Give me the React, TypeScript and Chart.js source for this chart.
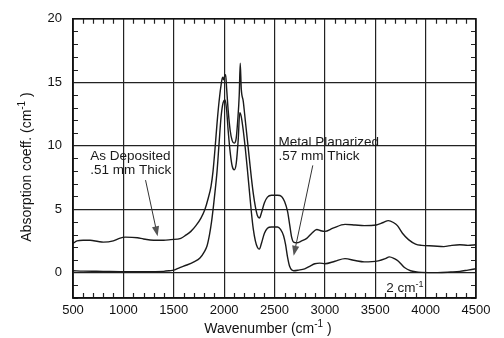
import { useEffect, useRef } from "react";
import { Chart, registerables } from "chart.js";
Chart.register(...registerables);

// As Deposited (.51 mm) spectrum
const depositedWn = [500, 540, 600, 670, 750, 800, 900, 960, 1020, 1140, 1200, 1300, 1400, 1470, 1570, 1620, 1670, 1720, 1770, 1810, 1840, 1870, 1890, 1910, 1930, 1950, 1970, 1985, 1995, 2005, 2015, 2025, 2040, 2060, 2080, 2100, 2120, 2135, 2150, 2160, 2170, 2190, 2210, 2230, 2250, 2270, 2290, 2310, 2330, 2350, 2370, 2400, 2430, 2470, 2530, 2570, 2600, 2630, 2650, 2670, 2690, 2720, 2770, 2820, 2870, 2920, 2960, 3000, 3080, 3200, 3300, 3390, 3510, 3580, 3630, 3680, 3720, 3770, 3830, 3900, 3960, 4080, 4180, 4260, 4340, 4420, 4500];
const depositedAbs = [2.3, 2.5, 2.55, 2.55, 2.45, 2.4, 2.5, 2.7, 2.8, 2.75, 2.65, 2.55, 2.55, 2.6, 2.7, 2.95, 3.25, 3.7, 4.3, 5.0, 5.8, 6.8, 8.0, 9.8, 11.8, 13.5, 14.8, 15.4, 15.2, 15.5, 15.6, 14.5, 12.8, 11.2, 10.4, 10.2, 10.6, 12.0, 14.0, 16.5, 14.5, 13.5, 12.0, 10.5, 9.0, 7.5, 6.2, 5.2, 4.5, 4.3, 4.7, 5.5, 5.95, 6.1, 6.1, 6.0, 5.6, 4.8, 3.8, 2.8, 2.4, 2.35, 2.5, 2.7, 3.1, 3.4, 3.3, 3.25, 3.5, 3.8, 3.75, 3.7, 3.75, 3.95, 4.1, 3.95, 3.7, 3.1, 2.6, 2.25, 2.15, 2.1, 2.05, 2.15, 2.2, 2.15, 2.2];

// Metal Planarized (.57 mm) spectrum
const planarizedWn = [500, 600, 800, 1000, 1200, 1400, 1460, 1500, 1560, 1630, 1700, 1760, 1800, 1830, 1855, 1875, 1895, 1910, 1930, 1950, 1970, 1990, 2010, 2025, 2040, 2060, 2080, 2100, 2120, 2140, 2155, 2170, 2190, 2210, 2230, 2250, 2270, 2290, 2310, 2330, 2350, 2370, 2400, 2430, 2470, 2530, 2560, 2590, 2610, 2630, 2650, 2690, 2740, 2800, 2850, 2900, 2950, 3000, 3100, 3200, 3300, 3390, 3530, 3600, 3640, 3690, 3730, 3790, 3850, 3960, 4120, 4250, 4340, 4420, 4500];
const planarizedAbs = [0.15, 0.12, 0.1, 0.08, 0.08, 0.1, 0.15, 0.2, 0.4, 0.6, 0.85, 1.15, 1.6, 2.1, 3.0, 4.0, 5.3, 6.4, 8.0, 10.2, 12.3, 13.4, 13.6, 12.8, 11.2, 9.5, 8.4, 8.1, 8.6, 10.5, 12.6, 12.3, 11.2, 9.8, 8.2, 6.5, 4.8, 3.4, 2.5, 2.0, 1.85, 2.3, 3.1, 3.5, 3.6, 3.6, 3.4, 2.9, 2.2, 1.2, 0.5, 0.15, 0.2, 0.3, 0.5, 0.7, 0.75, 0.7, 0.9, 1.1, 0.95, 0.85, 0.93, 1.1, 1.24, 1.1, 0.9, 0.4, 0.15, 0.02, 0.0, 0.05, 0.1, 0.2, 0.3];

const xTicks = [500, 1000, 1500, 2000, 2500, 3000, 3500, 4000, 4500];
const yTicks = [0, 5, 10, 15, 20];
const xMinorStep = 100;
const yMinorStep = 1;

const FONT = "'Liberation Sans', Arial, Helvetica, sans-serif";

type Part = { text: string; sup?: boolean };

function drawRich(ctx: CanvasRenderingContext2D, parts: Part[], x: number, y: number, size: number, align: "left" | "center") {
  const supSize = Math.round(size * 0.68);
  const widths = parts.map((p) => {
    ctx.font = `${p.sup ? supSize : size}px ${FONT}`;
    return ctx.measureText(p.text).width;
  });
  const total = widths.reduce((a, b) => a + b, 0);
  let cx = align === "center" ? x - total / 2 : x;
  ctx.textAlign = "left";
  ctx.textBaseline = "alphabetic";
  parts.forEach((p, i) => {
    ctx.font = `${p.sup ? supSize : size}px ${FONT}`;
    ctx.fillText(p.text, cx, p.sup ? y - size * 0.42 : y);
    cx += widths[i];
  });
}

function drawArrow(ctx: CanvasRenderingContext2D, x1: number, y1: number, x2: number, y2: number) {
  const ang = Math.atan2(y2 - y1, x2 - x1);
  const len = 10;
  const half = 3.6;
  ctx.strokeStyle = "#333";
  ctx.lineWidth = 1;
  ctx.beginPath();
  ctx.moveTo(x1, y1);
  ctx.lineTo(x2 - Math.cos(ang) * len * 0.8, y2 - Math.sin(ang) * len * 0.8);
  ctx.stroke();
  ctx.fillStyle = "#555";
  ctx.beginPath();
  ctx.moveTo(x2, y2);
  ctx.lineTo(x2 - Math.cos(ang) * len - Math.sin(ang) * half, y2 - Math.sin(ang) * len + Math.cos(ang) * half);
  ctx.lineTo(x2 - Math.cos(ang) * len + Math.sin(ang) * half, y2 - Math.sin(ang) * len - Math.cos(ang) * half);
  ctx.closePath();
  ctx.fill();
}

const decorPlugin = {
  id: "decor",
  afterDraw(chart: any) {
    const { ctx, chartArea } = chart;
    const xs = chart.scales.x;
    const ys = chart.scales.y;
    const { left, right, top, bottom } = chartArea;
    ctx.save();
    // minor ticks
    ctx.strokeStyle = "#222";
    ctx.lineWidth = 1.2;
    ctx.beginPath();
    for (let v = xs.min; v <= xs.max; v += xMinorStep) {
      if (v % 500 === 0) continue;
      const px = Math.round(xs.getPixelForValue(v)) + 0.5;
      ctx.moveTo(px, bottom);
      ctx.lineTo(px, bottom - 5);
      ctx.moveTo(px, top);
      ctx.lineTo(px, top + 5);
    }
    for (let v = ys.min; v <= ys.max; v += yMinorStep) {
      if (v % 5 === 0) continue;
      const py = Math.round(ys.getPixelForValue(v)) + 0.5;
      ctx.moveTo(left, py);
      ctx.lineTo(left + 5, py);
      ctx.moveTo(right, py);
      ctx.lineTo(right - 5, py);
    }
    ctx.stroke();
    // frame
    ctx.strokeStyle = "#111";
    ctx.lineWidth = 1.5;
    ctx.strokeRect(left, top, right - left, bottom - top);

    // annotations
    ctx.fillStyle = "#1a1a1a";
    const P = (x: number, y: number) => [xs.getPixelForValue(x), ys.getPixelForValue(y)];
    let [ax, ay] = P(670, 8.84);
    ctx.font = `13.5px ${FONT}`;
    ctx.textAlign = "left";
    ctx.textBaseline = "alphabetic";
    ctx.fillText("As Deposited", ax, ay);
    ctx.fillText(".51 mm Thick", ax, ay + 13.5);
    [ax, ay] = P(2540, 9.95);
    ctx.fillText("Metal Planarized", ax, ay);
    ctx.fillText(".57 mm Thick", ax, ay + 13.5);

    let [s1x, s1y] = P(1220, 7.29);
    let [t1x, t1y] = P(1340, 2.87);
    drawArrow(ctx, s1x, s1y, t1x, t1y);
    [s1x, s1y] = P(2880, 8.45);
    [t1x, t1y] = P(2690, 1.32);
    drawArrow(ctx, s1x, s1y, t1x, t1y);

    ctx.fillStyle = "#1a1a1a";
    const [rx, ry] = P(3610, -1.55);
    drawRich(ctx, [{ text: "2 cm" }, { text: "-1", sup: true }], rx, ry, 13.5, "left");

    // axis titles
    ctx.fillStyle = "#111";
    drawRich(ctx, [{ text: "Wavenumber (cm" }, { text: "-1", sup: true }, { text: " )" }], 268, 333, 14, "center");
    ctx.save();
    ctx.translate(30.5, 167);
    ctx.rotate(-Math.PI / 2);
    drawRich(ctx, [{ text: "Absorption coeff. (cm" }, { text: "-1", sup: true }, { text: " )" }], 0, 0, 14, "center");
    ctx.restore();

    ctx.restore();
  },
};

export default function App() {
  const ref = useRef<HTMLCanvasElement>(null);
  useEffect(() => {
    document.body.style.margin = "0";
    const canvas = ref.current!;
    const lineStyle = {
      borderColor: "#1a1a1a",
      borderWidth: 1.4,
      pointRadius: 0,
      fill: false,
      cubicInterpolationMode: "monotone" as const,
    };
    const tickFont = { family: FONT, size: 13 };
    const chart = new Chart(canvas, {
      type: "line",
      data: {
        datasets: [
          { label: "As Deposited", data: depositedWn.map((x, i) => ({ x, y: depositedAbs[i] })), ...lineStyle },
          { label: "Metal Planarized", data: planarizedWn.map((x, i) => ({ x, y: planarizedAbs[i] })), ...lineStyle },
        ],
      },
      options: {
        responsive: false,
        animation: false,
        devicePixelRatio: 1,
        layout: { padding: { left: 0, right: 28, top: 14, bottom: 0 } },
        plugins: { legend: { display: false }, tooltip: { enabled: false }, title: { display: false } },
        scales: {
          x: {
            type: "linear",
            min: 500,
            max: 4500,
            afterBuildTicks: (s: any) => {
              s.ticks = xTicks.map((v) => ({ value: v }));
            },
            afterFit: (s: any) => {
              s.height = 40;
            },
            grid: { color: "#222", lineWidth: 1.2, drawTicks: false },
            border: { display: true, color: "#111", width: 1.5 },
            ticks: {
              padding: 5,
              font: tickFont,
              color: "#111",
              autoSkip: false,
              maxRotation: 0,
              callback: (v: any) => String(v),
            },
          },
          y: {
            type: "linear",
            min: -2,
            max: 20,
            afterBuildTicks: (s: any) => {
              s.ticks = yTicks.map((v) => ({ value: v }));
            },
            afterFit: (s: any) => {
              s.width = 73;
            },
            grid: { color: "#222", lineWidth: 1.2, drawTicks: false },
            border: { display: true, color: "#111", width: 1.5 },
            ticks: {
              padding: 11,
              font: tickFont,
              color: "#111",
              callback: (v: any) => String(v),
            },
          },
        },
      },
      plugins: [decorPlugin],
    });
    return () => chart.destroy();
  }, []);
  return <canvas ref={ref} width={504} height={338} style={{ display: "block" }} />;
}
